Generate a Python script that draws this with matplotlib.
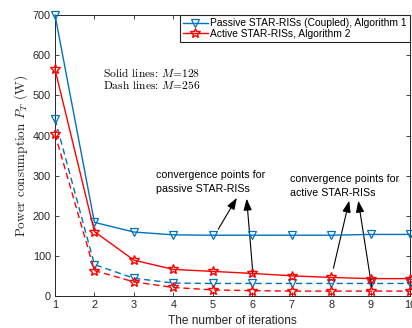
import matplotlib
matplotlib.use("Agg")
import matplotlib.pyplot as plt
import numpy as np

plt.rcParams['mathtext.fontset'] = 'cm'
plt.rcParams['font.family'] = ['Liberation Sans', 'DejaVu Sans']

iterations = [1, 2, 3, 4, 5, 6, 7, 8, 9, 10]

# M = 128 (solid lines)
passive_m128 = [700, 184, 160, 153, 152, 152, 152, 152, 154, 154]
active_m128 = [565, 161, 90, 67, 62, 57, 51, 47, 44, 44]

# M = 256 (dashed lines)
passive_m256 = [441, 79, 45, 33, 32, 32, 32, 32, 32, 32]
active_m256 = [404, 64, 36, 22, 16, 14, 13, 13, 13, 13]

legend_labels = ["Passive STAR-RISs (Coupled), Algorithm 1",
                 "Active STAR-RISs, Algorithm 2"]

blue = '#0072BD'
red = '#FF0000'
axis_grey = '#262626'

fig = plt.figure(figsize=(4.12, 3.28), dpi=100)
ax = fig.add_axes([0.1335, 0.0966, 0.8615, 0.8576])

mk_tri = dict(marker='v', markersize=6, markerfacecolor='none', markeredgewidth=0.9)
mk_star = dict(marker='*', markersize=7.5, markerfacecolor='none', markeredgewidth=1.0)

l1, = ax.plot(iterations, passive_m128, color=blue, lw=1.0, **mk_tri, clip_on=False, zorder=4)
l2, = ax.plot(iterations, active_m128, color=red, lw=1.0, **mk_star, clip_on=False, zorder=4)
ax.plot(iterations, passive_m256, color=blue, lw=1.0, ls=(0, (4.5, 2.8)), **mk_tri, clip_on=False, zorder=3)
ax.plot(iterations, active_m256, color=red, lw=1.0, ls=(0, (4.5, 2.8)), **mk_star, clip_on=False, zorder=3)

ax.set_xlim(1, 10)
ax.set_ylim(0, 700)
ax.set_xticks(iterations)
ax.set_yticks(np.arange(0, 701, 100))

ax.tick_params(direction='in', length=3, width=0.6, labelsize=7.8, colors=axis_grey,
               top=True, right=True, pad=3)
for s in ax.spines.values():
    s.set_linewidth(0.7)
    s.set_color(axis_grey)

ax.set_xlabel("The number of iterations", fontsize=8.6, color=axis_grey, labelpad=3)
ax.set_ylabel(r"Power consumption $P_T$ (W)", fontsize=9.5, family='cmr10',
              color=axis_grey, labelpad=2)

leg = ax.legend([l1, l2], legend_labels, loc='upper right', fontsize=7.4,
                borderaxespad=0, fancybox=False, framealpha=1, handlelength=2.5,
                handletextpad=0.2, borderpad=0.3, labelspacing=0.05)
leg.get_frame().set_edgecolor(axis_grey)
leg.get_frame().set_linewidth(0.8)

ax.text(2.22, 556, "Solid lines: $M$=128", fontsize=8.3, family='cmr10', va='center')
ax.text(2.22, 526, "Dash lines: $M$=256", fontsize=8.3, family='cmr10', va='center')

ax.text(3.56, 301, "convergence points for", fontsize=7.7, va='center')
ax.text(3.56, 268, "passive STAR-RISs", fontsize=7.7, va='center')
ax.text(6.96, 291, "convergence points for", fontsize=7.7, va='center')
ax.text(6.96, 258, "active STAR-RISs", fontsize=7.7, va='center')

arrow_kw = dict(arrowstyle='-|>,head_length=0.7,head_width=0.25', color='black', lw=0.8,
                shrinkA=0, shrinkB=0)
arrows = [((5.14, 167), (5.61, 245)),
          ((6.02, 54), (5.86, 243)),
          ((8.06, 70), (8.46, 238)),
          ((9.03, 24), (8.69, 238))]
for tail, head in arrows:
    ax.annotate("", xy=head, xytext=tail, arrowprops=arrow_kw)

fig.savefig("out.png", dpi=100)
